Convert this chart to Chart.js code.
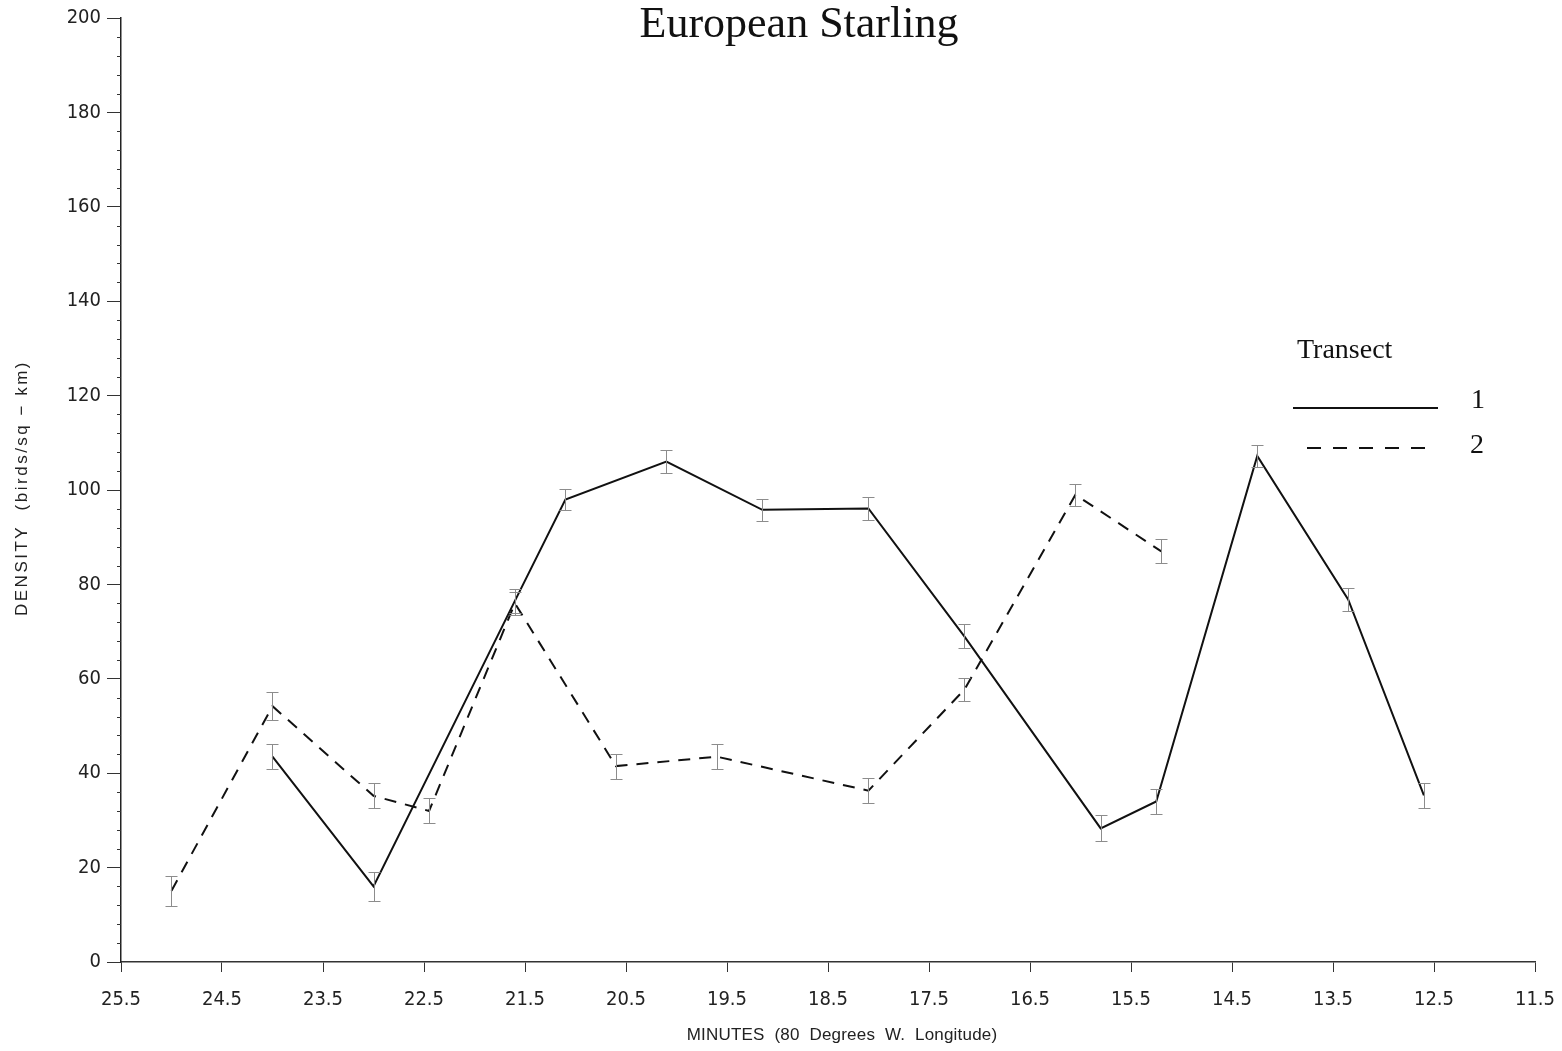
<!DOCTYPE html>
<html>
<head>
<meta charset="utf-8">
<title>European Starling</title>
<script src="https://cdn.jsdelivr.net/npm/chart.js@4.4.0/dist/chart.umd.min.js"></script>
<style>
  html, body { margin: 0; padding: 0; background: #fff; }
</style>
</head>
<body>
<canvas id="starlingChart" width="1562" height="1051"></canvas>
<script>
// Transect 1 (solid line): minutes of longitude, density, error (+/-)
const t1Minutes = [24.0, 23.0, 21.6, 21.1, 20.1, 19.15, 18.1, 17.15, 15.8, 15.25, 14.25, 13.35, 12.6];
const t1Density = [43.5, 16.0, 76.5, 98.0, 106.0, 95.8, 96.1, 69.0, 28.3, 34.0, 107.2, 76.8, 35.3];
const t1Err     = [2.7, 3.1, 2.5, 2.3, 2.45, 2.3, 2.4, 2.55, 2.75, 2.7, 2.3, 2.4, 2.65];

// Transect 2 (dashed line)
const t2Minutes = [25.0, 24.0, 23.0, 22.45, 21.6, 20.6, 19.6, 18.1, 17.15, 16.05, 15.2];
const t2Density = [15.1, 54.2, 35.2, 32.0, 76.0, 41.5, 43.5, 36.3, 57.7, 99.0, 87.0];
const t2Err     = [3.2, 2.9, 2.65, 2.65, 2.45, 2.65, 2.65, 2.65, 2.45, 2.35, 2.55];

// axis ticks
const xTicks = [25.5, 24.5, 23.5, 22.5, 21.5, 20.5, 19.5, 18.5, 17.5, 16.5, 15.5, 14.5, 13.5, 12.5, 11.5];
const yMin = 0;
const yMax = 200;
const yMajor = 20;
const yMinor = 4;

const narrow = "'Liberation Sans Narrow', 'DejaVu Sans Condensed', 'Liberation Sans', sans-serif";
const serif = "'Liberation Serif', 'Times New Roman', serif";
const sans = "'Liberation Sans', Arial, sans-serif";

function toPoints(xs, ys, errs) {
    return xs.map((x, i) => ({ x: x, y: ys[i], err: errs[i] }));
}

// error bars drawn from the dataset values
const errorBars = {
    id: 'errorBars',
    afterDatasetsDraw(chart) {
        const ctx = chart.ctx;
        const x = chart.scales.x, y = chart.scales.y;
        ctx.save();
        ctx.strokeStyle = '#8c8c8c';
        ctx.lineWidth = 1;
        chart.data.datasets.forEach(ds => {
            ds.data.forEach(p => {
                const px = Math.round(x.getPixelForValue(p.x)) + 0.5;
                const top = Math.round(y.getPixelForValue(p.y + p.err)) + 0.5;
                const bot = Math.round(y.getPixelForValue(p.y - p.err)) + 0.5;
                ctx.beginPath();
                ctx.moveTo(px, top); ctx.lineTo(px, bot);
                ctx.moveTo(px - 6, top); ctx.lineTo(px + 6, top);
                ctx.moveTo(px - 6, bot); ctx.lineTo(px + 6, bot);
                ctx.stroke();
            });
        });
        ctx.restore();
    }
};

// title, axis titles, minor ticks and the legend box
const decorations = {
    id: 'decorations',
    afterDraw(chart) {
        const ctx = chart.ctx;
        const y = chart.scales.y;
        const area = chart.chartArea;
        ctx.save();

        // minor ticks on the y axis
        ctx.strokeStyle = '#333';
        ctx.lineWidth = 1;
        y.ticks.forEach(t => {
            if (t.value % yMajor !== 0) {
                const py = Math.round(y.getPixelForValue(t.value)) + 0.5;
                ctx.beginPath();
                ctx.moveTo(area.left - 4, py);
                ctx.lineTo(area.left, py);
                ctx.stroke();
            }
        });

        ctx.fillStyle = '#111';
        ctx.font = '44px ' + serif;
        ctx.textAlign = 'center';
        ctx.textBaseline = 'alphabetic';
        ctx.fillText('European Starling', 799, 37);

        // axis titles
        ctx.fillStyle = '#222';
        ctx.font = '17px ' + sans;
        ctx.letterSpacing = '0.2px';
        ctx.textBaseline = 'middle';
        ctx.fillText('MINUTES  (80  Degrees  W.  Longitude)', 842, 1035);
        ctx.save();
        ctx.translate(22, 488);
        ctx.rotate(-Math.PI / 2);
        ctx.letterSpacing = '2.5px';
        ctx.fillText('DENSITY  (birds/sq \u2212 km)', 0, 0);
        ctx.restore();
        ctx.letterSpacing = '0px';

        // legend
        ctx.fillStyle = '#111';
        ctx.font = '28px ' + serif;
        ctx.textAlign = 'left';
        ctx.textBaseline = 'alphabetic';
        ctx.fillText('Transect', 1297, 358);
        ctx.textAlign = 'center';
        ctx.fillText('1', 1478, 408);
        ctx.fillText('2', 1477, 453);
        ctx.strokeStyle = '#111';
        ctx.lineWidth = 2;
        ctx.beginPath();
        ctx.moveTo(1293, 408); ctx.lineTo(1438, 408);
        ctx.stroke();
        ctx.setLineDash([14, 12]);
        ctx.beginPath();
        ctx.moveTo(1307, 448); ctx.lineTo(1428, 448);
        ctx.stroke();
        ctx.restore();
    }
};

document.addEventListener('DOMContentLoaded', function() {
    Chart.defaults.font.family = narrow;
    Chart.defaults.color = '#222';

    const ctx = document.getElementById('starlingChart').getContext('2d');
    const chart = new Chart(ctx, {
        type: 'line',
        data: {
            datasets: [{
                label: '1',
                data: toPoints(t1Minutes, t1Density, t1Err),
                borderColor: '#111',
                borderWidth: 2,
                pointRadius: 0,
                tension: 0,
                fill: false
            }, {
                label: '2',
                data: toPoints(t2Minutes, t2Density, t2Err),
                borderColor: '#111',
                borderWidth: 2,
                borderDash: [12, 9],
                pointRadius: 0,
                tension: 0,
                fill: false
            }]
        },
        options: {
            responsive: false,
            animation: false,
            layout: { padding: { top: 18, right: 27, left: 0, bottom: 0 } },
            plugins: {
                legend: { display: false },
                tooltip: { enabled: false },
                title: { display: false }
            },
            scales: {
                x: {
                    type: 'linear',
                    reverse: true,
                    min: 11.5,
                    max: 25.5,
                    afterBuildTicks: scale => { scale.ticks = xTicks.map(v => ({ value: v })); },
                    afterFit: scale => {
                        scale.height = 89;
                        scale.paddingLeft = 0;
                        scale.paddingRight = 0;
                    },
                    border: { color: '#333', width: 1.5 },
                    grid: { drawOnChartArea: false, tickLength: 10, tickColor: '#333' },
                    ticks: {
                        font: { size: 20 },
                        padding: 16,
                        maxRotation: 0,
                        autoSkip: false,
                        callback: v => v.toFixed(1)
                    }
                },
                y: {
                    min: yMin,
                    max: yMax,
                    afterFit: scale => { scale.width = 121; },
                    border: { color: '#222', width: 1.5 },
                    grid: {
                        drawOnChartArea: false,
                        tickLength: 14,
                        tickColor: c => (c.tick && c.tick.value % yMajor === 0) ? '#333' : 'rgba(0,0,0,0)'
                    },
                    ticks: {
                        stepSize: yMinor,
                        autoSkip: false,
                        font: { size: 20 },
                        padding: 6,
                        callback: v => (v % yMajor === 0 ? String(v) : '')
                    }
                }
            }
        },
        plugins: [errorBars, decorations]
    });
});
</script>
</body>
</html>
